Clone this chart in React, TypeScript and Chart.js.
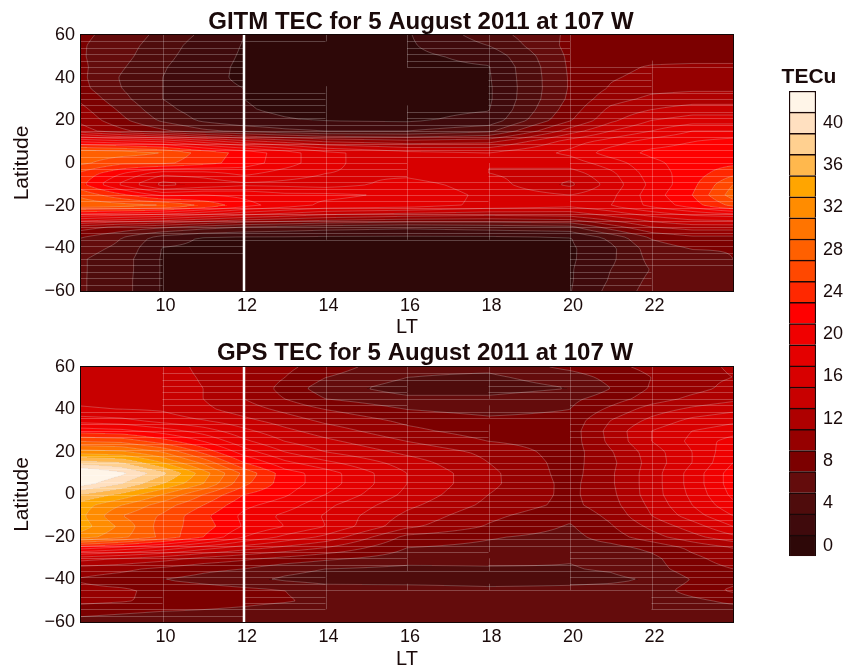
import React, { useEffect, useRef } from "react";
import { Chart, registerables } from "chart.js";

Chart.register(...registerables);

const hours = [8, 9, 10, 11, 12, 13, 14, 16, 18, 20, 21, 22, 23, 24];
const latitudes = [60, 55, 50, 45, 40, 35, 30, 25, 20, 15, 10, 5, 0, -5, -10, -15, -20, -25, -30, -35, -40, -45, -50, -55, -60];
const hourTicks = [10, 12, 14, 16, 18, 20, 22];
const latTicks = [-60, -40, -20, 0, 20, 40, 60];
const colorbarTicks = [0, 4, 8, 12, 16, 20, 24, 28, 32, 36, 40];
const levels = [0, 2, 4, 6, 8, 10, 12, 14, 16, 18, 20, 22, 24, 26, 28, 30, 32, 34, 36, 38, 40, 42];
const levelColors = [
  "#2e0808", "#3f0a0c", "#4f0c0c", "#640c0c", "#7c0000", "#960000", "#ae0000", "#c80000", "#d80000", "#e40000", "#f00000",
  "#ff0000", "#ff2800", "#ff4800", "#ff6000", "#ff7400", "#ff8c00", "#ffa500", "#ffb84d", "#ffd090", "#ffe0c0", "#fff5e8",
];

const gitmTec = [
  [7.4, 6.2, 4.4, 2.6, 1.0, 0.7, 0.6, 0.8, 4.0, 7.4, 8, 8, 8, 8],
  [7.2, 5.8, 4.0, 2.0, 0.9, 0.6, 0.5, 0.7, 3.0, 7.6, 8, 8, 8, 8],
  [7.2, 5.6, 3.6, 1.8, 0.8, 0.5, 0.5, 0.5, 1.6, 7.4, 8, 8.2, 8.2, 8.2],
  [7.4, 5.2, 3.2, 1.6, 0.7, 0.5, 0.5, 0.5, 0.9, 7.3, 8.4, 9.2, 9.4, 9.4],
  [7.4, 4.8, 3.0, 1.5, 0.7, 0.5, 0.5, 0.5, 0.8, 7.2, 8.8, 9.6, 10, 10],
  [7.6, 5.0, 3.0, 1.5, 1.0, 0.6, 0.5, 0.5, 0.7, 7.2, 9.2, 10.4, 10.6, 10.6],
  [8.6, 5.6, 3.0, 1.6, 1.0, 0.7, 0.5, 0.5, 0.7, 7.4, 10.2, 11.5, 12, 12],
  [9.6, 6.6, 3.6, 2.0, 1.1, 0.8, 0.7, 0.5, 0.9, 8, 11.5, 13, 14, 14],
  [10.5, 7.5, 4.6, 2.6, 1.4, 1.1, 0.9, 0.7, 1.6, 8.8, 12.5, 15, 16, 16],
  [12, 9.5, 7.5, 5.5, 4.5, 3.5, 3, 3, 4.5, 12, 15, 17, 19, 19],
  [21, 20, 19, 16.5, 14, 12.5, 11, 10, 10.5, 16, 18, 20, 21, 22],
  [28.5, 28, 27, 24.2, 22.3, 20, 17.5, 15.5, 15, 17.5, 20, 21.5, 22, 23],
  [27.5, 25.5, 25.5, 23.8, 22, 20, 17.5, 15.5, 15, 16, 18, 20.5, 22, 22.5],
  [24.5, 21, 17.5, 18, 19.5, 18, 17, 16.5, 15, 14, 16.5, 20, 22, 24.5],
  [23.5, 18.5, 14.2, 15.5, 16.5, 16.4, 16, 17.8, 16, 12.5, 15.8, 19.5, 22.4, 27],
  [26.5, 23.5, 20.5, 21, 20.5, 19.5, 19.5, 18.5, 16.5, 15, 16.5, 20, 23, 28],
  [28.5, 28, 27.3, 24.7, 21.8, 20, 18.5, 18, 16.5, 15.5, 17, 19.5, 22, 25.5],
  [19, 18, 17, 15.5, 14, 13, 12, 11, 10.5, 11, 13, 15, 16.5, 17],
  [10, 8.5, 7.5, 6, 5, 4.5, 4, 3.5, 4, 4.5, 8, 11, 12, 12],
  [7, 5, 2.0, 0.8, 0.7, 0.7, 0.6, 0.6, 0.6, 0.9, 3.5, 7.2, 8.5, 8.5],
  [5.8, 4.5, 0.9, 0.6, 0.5, 0.5, 0.5, 0.5, 0.5, 0.7, 2.5, 6, 7.1, 7.1],
  [5.2, 3.9, 0.8, 0.5, 0.5, 0.5, 0.5, 0.5, 0.5, 0.7, 2.6, 5.6, 6.2, 7],
  [5.2, 3.9, 0.8, 0.5, 0.5, 0.5, 0.5, 0.5, 0.5, 0.8, 3, 5.1, 6, 6],
  [5.2, 3.8, 0.8, 0.5, 0.5, 0.5, 0.5, 0.5, 0.5, 0.8, 3.2, 5.5, 6, 6],
  [5.2, 3.8, 0.8, 0.5, 0.5, 0.5, 0.5, 0.5, 0.5, 0.9, 3.6, 5.8, 6, 6],
];

const gpsTec = [
  [14, 14, 14, 12.5, 11, 9.5, 8, 5.5, 5.5, 7.5, 8.5, 9.5, 10.5, 11.2],
  [14, 14, 14, 12.8, 11, 9, 7, 5, 4.6, 6, 7.6, 9, 10.5, 11],
  [14.5, 14.3, 14, 13, 11, 8.2, 6, 4, 4, 5, 7, 9.2, 10.3, 11.6],
  [14.6, 14.4, 14, 13, 11, 9, 7, 5.5, 5.5, 6.5, 8, 10, 11.5, 12.5],
  [15.2, 15, 14.8, 13.5, 12, 10.5, 9, 7, 6.2, 7, 9.5, 12, 13.5, 14.5],
  [18, 17.5, 16, 15, 13.5, 12, 10.5, 8.5, 7.5, 7.7, 11, 13.5, 15.5, 16.5],
  [22, 21.5, 20, 18, 15.5, 13.5, 12, 9.5, 8, 8, 11.7, 15, 17, 18],
  [27, 26.5, 24, 21, 17.5, 15, 13.5, 11, 9, 8, 11.5, 15, 17.5, 20],
  [32, 31.5, 29, 24.5, 20, 17, 15, 12.5, 10.5, 8, 10.8, 14, 17, 20.5],
  [38, 37, 33, 28.5, 23, 19.5, 17.5, 14, 11, 8.2, 10.5, 13.8, 17, 21],
  [44, 41.5, 37.6, 32, 26.5, 22, 20, 15, 11.5, 8.2, 10.7, 14, 17.8, 22],
  [42, 39, 35, 31, 25.5, 22, 20, 15, 11.5, 8.4, 10.7, 14, 17.8, 22],
  [37, 34.5, 31, 27, 23, 21.3, 19, 14.5, 11, 8.5, 10.5, 14, 17.5, 21.5],
  [34, 31, 28, 25, 21.5, 20, 17.5, 13.5, 10.5, 8.4, 10.2, 13.5, 17, 20.5],
  [33.5, 29, 26.7, 23.5, 20.5, 18.5, 16.8, 12.5, 9.5, 7.5, 9.5, 13, 16, 19],
  [34, 30.5, 26, 24, 20.8, 19, 17, 11.5, 8.8, 6.8, 8.8, 11.5, 14, 17],
  [32, 29.5, 26.5, 23, 19, 16.5, 14.5, 8.4, 7.2, 6.3, 8, 10.2, 12.3, 14.5],
  [22, 20.5, 18.5, 16, 14, 12.5, 11, 7, 6.5, 6, 6.3, 7.5, 9.5, 11],
  [14, 13, 12, 10.5, 9.5, 8.5, 7.5, 6, 5.6, 5.1, 5.4, 6.5, 8.5, 10],
  [10, 9.5, 8.5, 7.5, 7, 5.6, 5, 4.5, 4.8, 4.9, 5.2, 6.2, 8, 9],
  [8.8, 8, 7, 6.3, 5.5, 4.7, 4.2, 4, 4, 4.4, 4.6, 5.2, 7.1, 8.3],
  [9.5, 9.3, 8.5, 8, 7.5, 7, 6, 6, 5.5, 5.5, 5.7, 6, 7.8, 9.4],
  [9.5, 9.2, 8.5, 8, 7.6, 7.2, 6.5, 6, 5.5, 5.5, 5.6, 5.8, 6.5, 7.5],
  [8, 7.5, 7, 6.8, 6.5, 6, 6, 6, 6, 6, 6, 6, 6, 6],
  [6, 5.5, 5, 5, 5, 5, 5, 5, 5, 5, 5, 5, 5, 5.4],
];

const FONT = "'Liberation Sans', Arial, sans-serif";
const INK = "#1a0a0a";
const minus = (s: any) => String(s).replace("-", "\u2212");

function locate(axis: number[], v: number) {
  const desc = axis[0] > axis[axis.length - 1];
  let i = 0;
  while (i < axis.length - 2 && (desc ? v < axis[i + 1] : v > axis[i + 1])) i++;
  const t = (v - axis[i]) / (axis[i + 1] - axis[i]);
  return [i, Math.max(0, Math.min(1, t))];
}
function sample(grid: number[][], h: number, lat: number) {
  const [c, u] = locate(hours, h);
  const [r, w] = locate(latitudes, lat);
  const a = grid[r][c] * (1 - u) + grid[r][c + 1] * u;
  const b = grid[r + 1][c] * (1 - u) + grid[r + 1][c + 1] * u;
  return a * (1 - w) + b * w;
}
const levelIndex = (v: number) => Math.max(0, Math.min(levels.length - 1, Math.round(v / 2)));

function contourPlugin(grid: number[][]) {
  return {
    id: "contourFill",
    beforeDatasetsDraw(chart: any) {
      const { ctx, chartArea: a, scales } = chart;
      const sx = scales.x;
      const sy = scales.y;
      const L = Math.round(a.left);
      const R = Math.round(a.right);
      const T = Math.round(a.top);
      const B = Math.round(a.bottom);
      ctx.save();
      for (let py = T; py < B; py++) {
        const lat = sy.getValueForPixel(py + 0.5);
        let start = L;
        let cur = levelIndex(sample(grid, sx.getValueForPixel(L + 0.5), lat));
        for (let px = L + 1; px <= R; px++) {
          const lv = px < R ? levelIndex(sample(grid, sx.getValueForPixel(px + 0.5), lat)) : -1;
          if (lv !== cur) {
            ctx.fillStyle = levelColors[cur];
            ctx.fillRect(start, py, px - start, 1);
            start = px;
            cur = lv;
          }
        }
      }
      const step = 2;
      ctx.strokeStyle = "rgba(215,205,205,0.36)";
      ctx.lineWidth = 0.8;
      ctx.beginPath();
      const nx = Math.floor((R - L) / step);
      const ny = Math.floor((B - T) / step);
      const vals: number[][] = [];
      for (let j = 0; j <= ny; j++) {
        const row: number[] = [];
        const lat = sy.getValueForPixel(T + j * step);
        for (let i = 0; i <= nx; i++) row.push(sample(grid, sx.getValueForPixel(L + i * step), lat));
        vals.push(row);
      }
      for (let k = 0; k < levels.length - 1; k++) {
        const iso = levels[k] + 1;
        for (let j = 0; j < ny; j++) {
          for (let i = 0; i < nx; i++) {
            const v = [vals[j][i], vals[j][i + 1], vals[j + 1][i + 1], vals[j + 1][i]];
            const pts: number[][] = [];
            const cx = [0, 1, 1, 0];
            const cy = [0, 0, 1, 1];
            for (let e = 0; e < 4; e++) {
              const f = (e + 1) % 4;
              if (v[e] < iso !== v[f] < iso) {
                const t = (iso - v[e]) / (v[f] - v[e]);
                pts.push([L + (i + cx[e] + (cx[f] - cx[e]) * t) * step, T + (j + cy[e] + (cy[f] - cy[e]) * t) * step]);
              }
            }
            if (pts.length >= 2) {
              ctx.moveTo(pts[0][0], pts[0][1]);
              ctx.lineTo(pts[1][0], pts[1][1]);
            }
            if (pts.length === 4) {
              ctx.moveTo(pts[2][0], pts[2][1]);
              ctx.lineTo(pts[3][0], pts[3][1]);
            }
          }
        }
      }
      ctx.stroke();
      const flat = (h0: number, lat0: number) => {
        const first = levelIndex(sample(grid, h0, lat0 + 1.5));
        for (let i = 0; i <= 8; i++) {
          for (let j = 0; j <= 3; j++) {
            if (levelIndex(sample(grid, h0 + (2 * i) / 8, lat0 + j)) !== first) return false;
          }
        }
        return true;
      };
      ctx.strokeStyle = "rgba(255,255,255,0.24)";
      ctx.lineWidth = 1;
      ctx.beginPath();
      for (let lat0 = -60; lat0 < 60; lat0 += 3) {
        const y = Math.round(sy.getPixelForValue(lat0)) + 0.5;
        for (let h0 = 8; h0 < 24; h0 += 2) {
          if (flat(h0, lat0)) continue;
          ctx.moveTo(sx.getPixelForValue(h0), y);
          ctx.lineTo(sx.getPixelForValue(h0 + 2), y);
        }
        for (let h = 10; h < 24; h += 2) {
          if (flat(h - 2, lat0) && flat(h, lat0)) continue;
          const x = Math.round(sx.getPixelForValue(h)) + 0.5;
          ctx.moveTo(x, sy.getPixelForValue(lat0));
          ctx.lineTo(x, sy.getPixelForValue(lat0 + 3));
        }
      }
      ctx.stroke();
      ctx.restore();
    },
    afterDatasetsDraw(chart: any) {
      const { ctx, chartArea: a } = chart;
      ctx.save();
      ctx.strokeStyle = "#120606";
      ctx.lineWidth = 1;
      ctx.strokeRect(a.left - 0.5, a.top - 0.5, a.right - a.left + 1, a.bottom - a.top + 1);
      ctx.restore();
    },
  };
}

function panelConfig(grid: number[][], o: any) {
  const cells: any[] = [];
  latitudes.forEach((lat, r) => hours.forEach((h, c) => cells.push({ x: h, y: lat, v: grid[r][c] })));
  return {
    type: "scatter",
    data: {
      datasets: [
        { label: "TEC", data: cells, pointRadius: 0, showLine: false },
        {
          label: "Noon",
          data: [{ x: 12, y: -60 }, { x: 12, y: 60 }],
          showLine: true,
          borderColor: "#ffffff",
          borderWidth: 2.5,
          pointRadius: 0,
        },
      ],
    },
    options: {
      animation: false,
      responsive: false,
      layout: { padding: 0 },
      plugins: {
        legend: { display: false },
        tooltip: { enabled: false },
        title: {
          display: true,
          text: o.title,
          color: INK,
          font: { family: FONT, size: 24, weight: "bold", lineHeight: 1 },
          padding: o.titlePad,
        },
      },
      scales: {
        x: {
          type: "linear",
          min: 8,
          max: 24,
          grid: { display: false, drawTicks: false },
          border: { display: false },
          afterBuildTicks: (s: any) => { s.ticks = hourTicks.map((value) => ({ value })); },
          afterFit: (s: any) => { s.height = o.xHeight; },
          ticks: { color: INK, font: { family: FONT, size: 18 }, padding: 4, labelOffset: 3, maxRotation: 0, autoSkip: false },
          title: { display: true, text: "LT", color: INK, font: { family: FONT, size: 20 }, padding: { top: 0, bottom: o.ltPad } },
        },
        y: {
          type: "linear",
          min: -60,
          max: 60,
          grid: { display: false, drawTicks: false },
          border: { display: false },
          afterBuildTicks: (s: any) => { s.ticks = latTicks.map((value) => ({ value })); },
          afterFit: (s: any) => { s.width = 81; },
          ticks: { color: INK, font: { family: FONT, size: 18 }, padding: 6, callback: (v: any) => minus(v) },
          title: { display: true, text: "Latitude", color: INK, font: { family: FONT, size: 21 }, padding: { top: 10, bottom: 0 } },
        },
        yR: {
          type: "linear",
          axis: "y",
          position: "right",
          display: true,
          grid: { display: false, drawTicks: false },
          border: { display: false },
          ticks: { display: false },
          afterFit: (s: any) => { s.width = o.rightGap; },
        },
      },
    },
    plugins: [contourPlugin(grid)],
  };
}

function colorbarConfig() {
  return {
    type: "bar",
    data: {
      labels: ["TECu"],
      datasets: levels.map((v, i) => ({
        label: String(v),
        data: [[v - 1, v + 1]],
        backgroundColor: levelColors[i],
        borderColor: "#1a0808",
        borderWidth: 1.5,
        grouped: false,
        barPercentage: 1,
        categoryPercentage: 1,
      })),
    },
    options: {
      animation: false,
      responsive: false,
      layout: { padding: { bottom: 4 } },
      plugins: {
        legend: { display: false },
        tooltip: { enabled: false },
        title: {
          display: true,
          text: "TECu",
          color: INK,
          font: { family: FONT, size: 21, weight: "bold", lineHeight: 1 },
          padding: { top: 7, bottom: 3 },
        },
      },
      scales: {
        x: { display: false },
        y: {
          type: "linear",
          position: "right",
          min: -1,
          max: 43,
          grid: { display: false, drawTicks: false },
          border: { display: false },
          afterBuildTicks: (s: any) => { s.ticks = colorbarTicks.map((value) => ({ value })); },
          afterFit: (s: any) => { s.width = 32; },
          ticks: { color: INK, font: { family: FONT, size: 18 }, padding: 7 },
        },
        yL: {
          type: "linear",
          axis: "y",
          position: "left",
          display: true,
          grid: { display: false, drawTicks: false },
          border: { display: false },
          ticks: { display: false },
          afterFit: (s: any) => { s.width = 19; },
        },
      },
    },
  };
}

export default function App() {
  const a = useRef<HTMLCanvasElement>(null);
  const b = useRef<HTMLCanvasElement>(null);
  const c = useRef<HTMLCanvasElement>(null);
  useEffect(() => {
    const charts = [
      new Chart(a.current as any, panelConfig(gitmTec, {
        title: "GITM TEC for 5 August 2011 at 107 W",
        titlePad: { top: 10, bottom: 1 },
        xHeight: 49,
        ltPad: 1,
        rightGap: 109,
      }) as any),
      new Chart(b.current as any, panelConfig(gpsTec, {
        title: "GPS TEC for 5 August 2011 at 107 W",
        titlePad: { top: 6, bottom: 2 },
        xHeight: 53,
        ltPad: 4,
        rightGap: 117,
      }) as any),
      new Chart(c.current as any, colorbarConfig() as any),
    ];
    return () => charts.forEach((ch) => ch.destroy());
  }, []);
  const abs = (left: number, top: number): React.CSSProperties => ({ position: "absolute", left, top, display: "block" });
  return (
    <div style={{ position: "fixed", left: 0, top: 0, width: 848, height: 668, overflow: "hidden", background: "#fff" }}>
      <canvas ref={a} width={842} height={340} style={abs(0, 0)} />
      <canvas ref={b} width={850} height={340} style={abs(0, 335)} />
      <canvas ref={c} width={78} height={514} style={abs(770, 60)} />
    </div>
  );
}
